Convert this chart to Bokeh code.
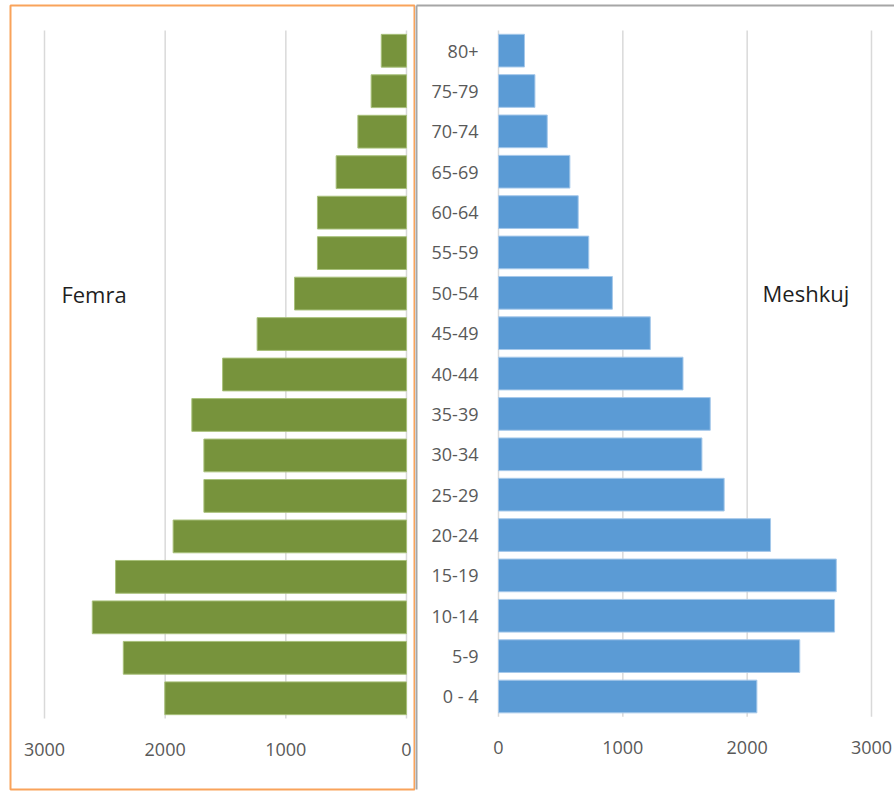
from bokeh.plotting import figure
from bokeh.models import Range1d, FixedTicker, ColumnDataSource, LinearAxis
from bokeh.layouts import row
from bokeh.core.properties import value
from bokeh.embed import file_html
from bokeh.resources import INLINE

# ---- data ----
ages = ["0 - 4", "5-9", "10-14", "15-19", "20-24", "25-29", "30-34", "35-39",
        "40-44", "45-49", "50-54", "55-59", "60-64", "65-69", "70-74", "75-79", "80+"]
female = [2003, 2347, 2604, 2411, 1934, 1679, 1679, 1779, 1524, 1238, 928, 738, 738, 583, 403, 293, 209]
male = [2078, 2423, 2703, 2717, 2188, 1815, 1636, 1703, 1484, 1221, 916, 726, 641, 574, 392, 293, 209]
ticks = [0, 1000, 2000, 3000]
left_title = "Femra"
right_title = "Meshkuj"

FONT = "Open Sans"
GRID = "#D9D9D9"
LABEL = "#595959"
FRAME_GRAY = "#A6A6A6"
H = 791

idx = list(range(len(ages)))
lo, hi = -0.5, len(ages) - 0.5


def style(p):
    p.background_fill_color = "white"
    p.border_fill_color = "white"
    p.xgrid.grid_line_color = None
    p.ygrid.grid_line_color = None
    ax = p.xaxis[0]
    ax.ticker = FixedTicker(ticks=ticks)
    ax.fixed_location = lo
    ax.axis_line_color = None
    ax.major_tick_line_color = None
    ax.minor_tick_line_color = None
    ax.major_tick_out = 0
    ax.major_tick_in = 0
    ax.major_label_standoff = 24
    ax.major_label_text_font = FONT
    ax.major_label_text_font_size = "18px"
    ax.major_label_text_color = LABEL
    # vertical gridlines spanning the category bands only
    p.segment(x0=ticks, x1=ticks, y0=[lo] * len(ticks), y1=[hi] * len(ticks),
              line_color=GRID, line_width=1.5)


def border_axis():
    return LinearAxis(ticker=FixedTicker(ticks=[]), axis_line_color=FRAME_GRAY, axis_line_width=2,
                      major_tick_line_color=None, minor_tick_line_color=None,
                      major_tick_out=0, major_tick_in=0, major_label_standoff=0,
                      major_label_text_font_size="0px")


# ---- left (female) ----
pl = figure(width=415, height=H, x_range=Range1d(3281.8, -74.6), y_range=Range1d(-2.254, 17.118),
            y_axis_location=None, output_backend="svg", toolbar_location=None,
            min_border_left=10, min_border_right=0, min_border_top=5, min_border_bottom=2)
pl.outline_line_color = "#F9A35B"
pl.outline_line_width = 2
style(pl)
src_f = ColumnDataSource(dict(i=idx, v=female))
pl.hbar(y="i", left=0, right="v", height=0.81, source=src_f,
        fill_color="#77933C", line_color="#A8C07A", line_width=1)
pl.text(x=[2860], y=[ages.index("50-54")], text=[left_title], text_font=value(FONT), text_font_size="22px",
        text_baseline="middle", text_align="left", text_color="#1F1F1F")

# ---- right (male) ----
pr = figure(width=479, height=H, x_range=Range1d(-659.5, 3185.0), y_range=Range1d(-2.304, 17.118),
            output_backend="svg", toolbar_location=None,
            min_border_left=1, min_border_right=0, min_border_top=5, min_border_bottom=0)
pr.outline_line_color = None
style(pr)
yax = pr.yaxis[0]
yax.ticker = FixedTicker(ticks=idx)
yax.major_label_overrides = {i: a for i, a in zip(idx, ages)}
yax.fixed_location = 0
yax.axis_line_color = None
yax.major_tick_line_color = None
yax.minor_tick_line_color = None
yax.major_tick_out = 0
yax.major_tick_in = 0
yax.major_label_standoff = 20
yax.major_label_text_font = FONT
yax.major_label_text_font_size = "18px"
yax.major_label_text_color = LABEL
pr.add_layout(border_axis(), "above")
pr.add_layout(border_axis(), "left")
src_m = ColumnDataSource(dict(i=idx, v=male))
pr.hbar(y="i", left=0, right="v", height=0.81, source=src_m,
        fill_color="#5B9BD5", line_color="#A5C8EA", line_width=1)
pr.text(x=[2124], y=[ages.index("50-54")], text=[right_title], text_font=value(FONT), text_font_size="22px",
        text_baseline="middle", text_align="left", text_color="#1F1F1F")

layout = row(pl, pr, spacing=0)
open("out.html", "w").write(file_html(layout, INLINE))
